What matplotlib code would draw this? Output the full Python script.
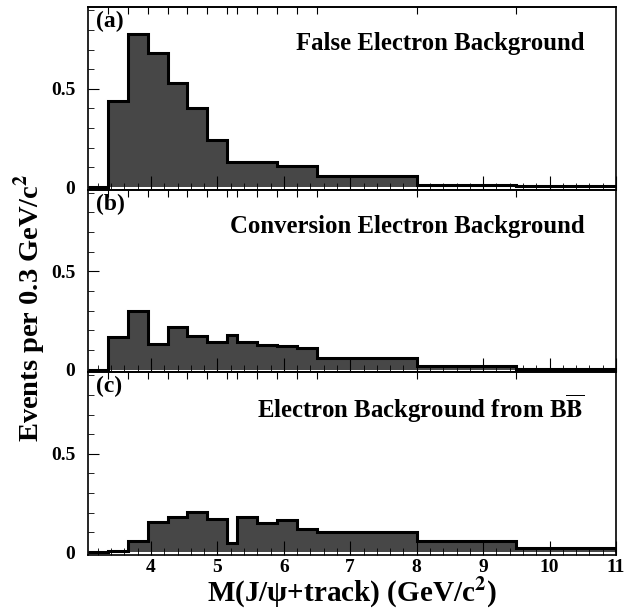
import numpy as np
import matplotlib
matplotlib.use('Agg')
from matplotlib import pyplot as plt
from matplotlib.ticker import MultipleLocator, FixedLocator

# bin edges (GeV/c^2), variable width
edges = [3.05, 3.35, 3.65, 3.95, 4.25, 4.55, 4.85, 5.15, 5.30, 5.60, 5.90,
         6.20, 6.50, 8.00, 9.50, 11.00]

false_bg = [0.0, 0.44, 0.78, 0.68, 0.53, 0.40, 0.24, 0.129, 0.129, 0.129,
            0.108, 0.108, 0.057, 0.012, 0.004]
conv_bg = [0.0, 0.168, 0.298, 0.131, 0.219, 0.173, 0.140, 0.177, 0.141,
           0.126, 0.120, 0.109, 0.057, 0.020, 0.002]
bbbar_bg = [0.0, 0.007, 0.057, 0.155, 0.180, 0.206, 0.170, 0.044, 0.178,
            0.148, 0.163, 0.118, 0.104, 0.054, 0.020]

panels = ['(a)', '(b)', '(c)']
titles = ['False Electron Background',
          'Conversion Electron Background',
          r'Electron Background from B$\mathbf{\overline{B}}$']

plt.rcParams['font.family'] = 'Liberation Serif'
plt.rcParams['font.weight'] = 'bold'
plt.rcParams['mathtext.fontset'] = 'stix'
plt.rcParams['axes.linewidth'] = 1.2

fig, axes = plt.subplots(3, 1, figsize=(6.41, 6.09), dpi=100, sharex=True)
fig.subplots_adjust(left=0.137, right=0.961, top=0.988, bottom=0.089, hspace=0)

for ax, vals, lab, title in zip(axes, [false_bg, conv_bg, bbbar_bg], panels, titles):
    ax.stairs(vals, edges, fill=True, color='#474747', lw=0)
    ax.stairs(vals, edges, color='black', lw=2.2)
    ax.set_xlim(3.05, 11)
    ax.set_ylim(-0.014, 0.915)

    ax.yaxis.set_major_locator(FixedLocator([0, 0.5]))
    ax.yaxis.set_minor_locator(MultipleLocator(0.1))
    ax.xaxis.set_major_locator(MultipleLocator(1))
    ax.xaxis.set_minor_locator(MultipleLocator(0.2))
    ax.set_yticklabels(['0', '0.5'])
    ax.tick_params(axis='both', which='both', direction='in', labelsize=14)
    ax.tick_params(axis='y', which='major', length=8, pad=9)
    ax.tick_params(axis='y', which='minor', length=4)
    ax.tick_params(axis='x', which='major', length=10, pad=3)
    ax.tick_params(axis='x', which='minor', length=5)
    ax.tick_params(axis='x', top=False)

    # ticks at bin edges along the top
    sec = ax.secondary_xaxis('top')
    sec.set_xticks(edges[1:-1])
    sec.tick_params(direction='in', length=5, labeltop=False)

    ax.text(0.016, 0.98, lab, transform=ax.transAxes, fontsize=17,
            fontweight='bold', va='top', ha='left')
    ax.text(0.94, 0.8, title, transform=ax.transAxes, fontsize=17.8,
            fontweight='bold', va='center', ha='right')

axes[2].set_xticks(range(4, 12))
axes[2].set_xticklabels([str(v) for v in range(4, 12)])
axes[2].set_xlabel(r'M(J/ψ+track) (GeV/c$^{\mathbf{2}}$)', fontsize=21,
                   fontweight='bold', labelpad=-1)
fig.text(0.047, 0.494, r'Events per 0.3 GeV/c$^{\mathbf{2}}$', rotation=90,
         fontsize=20.5, fontweight='bold', va='center', ha='center')

plt.savefig('out.png', dpi=100)
